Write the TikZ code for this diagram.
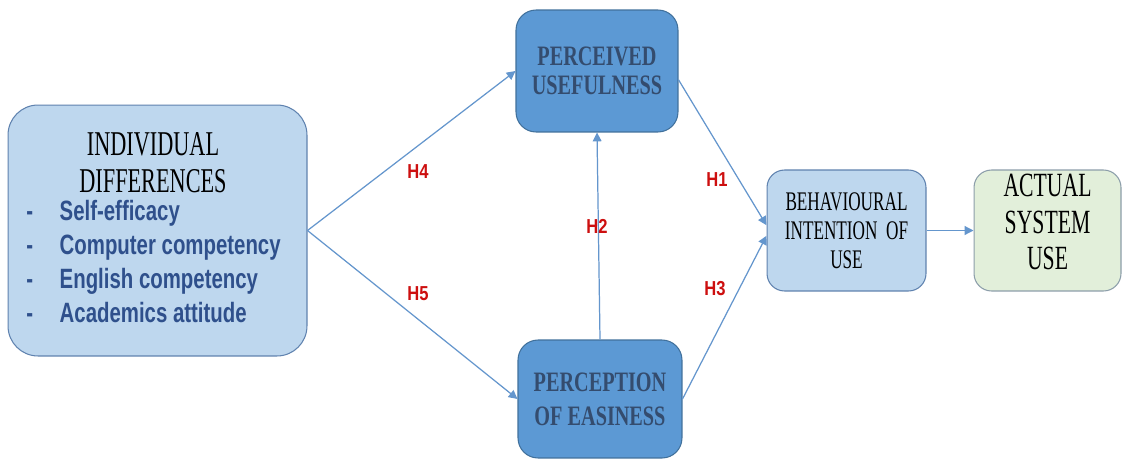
\documentclass[tikz,border=0pt]{standalone}
\usepackage{fontspec}
\setmainfont{Liberation Serif}
\newfontfamily\narrowserif[FakeStretch=0.64]{Liberation Serif}
\newfontfamily\boldserif[FakeStretch=0.72]{Liberation Serif}
\newfontfamily\narrowsans[FakeStretch=0.73]{Liberation Sans}
\newfontfamily\labelsans[FakeStretch=0.82]{Liberation Sans}
\usepackage{xcolor}
\usepackage{tikz}
\usetikzlibrary{positioning,arrows.meta,calc}
\definecolor{paleblue}{RGB}{190,215,238}
\definecolor{paleline}{RGB}{95,130,175}
\definecolor{midblue}{RGB}{92,153,212}
\definecolor{midline}{RGB}{65,113,156}
\definecolor{slatetext}{RGB}{52,76,110}
\definecolor{palegreen}{RGB}{226,239,218}
\definecolor{greenline}{RGB}{140,158,170}
\definecolor{linkblue}{RGB}{100,150,205}
\definecolor{listblue}{RGB}{47,80,140}
\definecolor{hypred}{RGB}{205,15,15}

\begin{document}
\begin{tikzpicture}[x=0.02cm,y=-0.02cm,
    box/.style={draw,rounded corners=0.4cm,align=center,inner sep=0pt,line width=0.6pt},
    arr/.style={-{Triangle[length=5pt,width=5pt]},draw=linkblue,line width=0.7pt},
    hyp/.style={inner sep=0pt,font=\labelsans\bfseries\fontsize{11.5}{13}\selectfont,text=hypred}
  ]
    \useasboundingbox[fill=white] (0,0) rectangle (1125,460);
    \node[box,fill=paleblue,draw=paleline,rounded corners=0.6cm,minimum width=5.98cm,minimum height=5.02cm] (indiv) at (157.5,230.5) {};
    \node[inner sep=0pt,align=center,font=\narrowserif\fontsize{19.8}{21}\selectfont] (indivtitle) at (153,162.5) {INDIVIDUAL\\DIFFERENCES};
    \node[inner sep=0pt,align=left,anchor=west,text=listblue,font=\narrowsans\bfseries\fontsize{15.9}{19.3}\selectfont] (indivlist) at (26,261.5)
      {\makebox[19pt][l]{-}Self-efficacy\\\makebox[19pt][l]{-}Computer competency\\\makebox[19pt][l]{-}English competency\\\makebox[19pt][l]{-}Academics attitude};
    \node[box,fill=midblue,draw=midline,minimum width=3.24cm,minimum height=2.44cm,text=slatetext,font=\boldserif\bfseries\fontsize{16}{16.6}\selectfont] (pu) at (597,71) {PERCEIVED\\USEFULNESS};
    \node[box,fill=midblue,draw=midline,minimum width=3.28cm,minimum height=2.36cm,text=slatetext,font=\boldserif\bfseries\fontsize{16}{19.5}\selectfont] (pe) at (600,399) {PERCEPTION\\OF EASINESS};
    \node[box,fill=paleblue,draw=paleline,rounded corners=0.35cm,minimum width=3.18cm,minimum height=2.42cm,font=\narrowserif\fontsize{15.3}{16.4}\selectfont] (bi) at (846.5,230.5) {BEHAVIOURAL\\INTENTION\ \ OF\\USE};
    \node[box,fill=palegreen,draw=greenline,rounded corners=0.35cm,minimum width=2.94cm,minimum height=2.42cm,font=\narrowserif\fontsize{19.3}{20.7}\selectfont,text depth=0.34cm] (asu) at (1047.5,230.5) {ACTUAL\\SYSTEM\\USE};
    % hypotheses
    \draw[arr] (indiv.east) -- (pu.west);
    \draw[arr] (indiv.east) -- (pe.west);
    \draw[arr] (pe.north) -- (pu.south);
    \draw[arr] ([yshift=-5pt]pu.east) -- ([yshift=3pt]bi.west);
    \draw[arr] (pe.east) -- ([yshift=-3pt]bi.west);
    \draw[arr] (bi) -- (asu);
    \node[hyp] (h4) at (418,172) {H4};
    \node[hyp] (h5) at (418,294) {H5};
    \node[hyp] (h2) at (597,226) {H2};
    \node[hyp] (h1) at (717,180) {H1};
    \node[hyp] (h3) at (715,289) {H3};
  \end{tikzpicture}
\end{document}
